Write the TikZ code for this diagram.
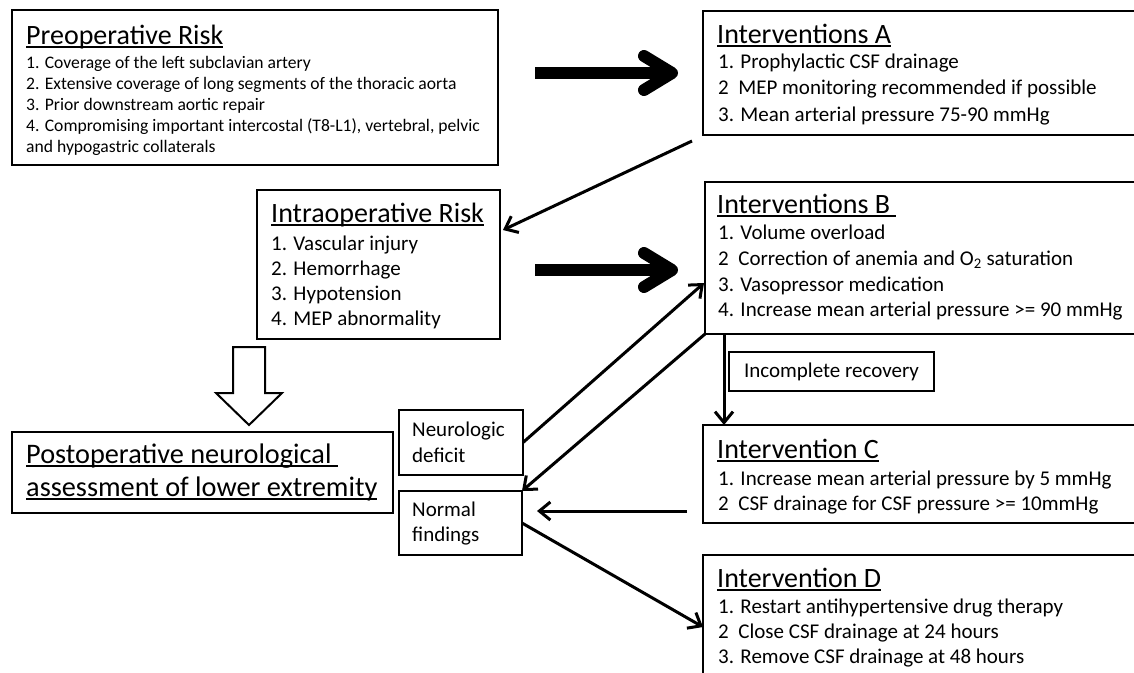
\documentclass[tikz,border=0pt]{standalone}
\usepackage{fontspec}
\setmainfont{Carlito}
\usetikzlibrary{arrows.meta,calc}
\newcommand\ulin[1]{\setbox0\hbox{#1}\rlap{\rule[-3.6pt]{\wd0}{1.6pt}}\box0}
\newcommand\Tsize{\fontsize{28}{33}\selectfont}
\newcommand\Isize{\fontsize{21}{25}\selectfont}
\newcommand\Ssize{\fontsize{17.6}{21}\selectfont}
\begin{document}
\begin{tikzpicture}[x=1pt,y=-1pt,
  box/.style={draw, line width=2pt, inner sep=0pt, outer sep=0pt, anchor=north west},
  sbox/.style={draw, line width=1.5pt, inner sep=0pt, outer sep=0pt, anchor=north west},
  ttl/.style={anchor=base west, inner sep=0pt, font=\Tsize},
  itm/.style={anchor=base west, inner sep=0pt, font=\Isize},
  itms/.style={anchor=base west, inner sep=0pt, font=\Ssize},
  bigarrow/.style={line width=12pt, -{Straight Barb[length=28pt,width=34pt,round]}},
  thinarrow/.style={line width=3pt, -{Straight Barb[length=11pt,width=18pt]}},
]
\path[use as bounding box] (0,0) rectangle (1134,672);
\fill[white] (0,0) rectangle (1134,672);
\clip (0,0) rectangle (1134,672);

% boxes
\node[box, minimum width=486pt, minimum height=155pt] (pre) at (12,10) {};
\node[box, minimum width=440pt, minimum height=124pt] (a) at (703,11) {};
\node[box, minimum width=440pt, minimum height=152pt] (b) at (705,182) {};
\node[box, minimum width=440pt, minimum height=98pt] (c) at (703,425) {};
\node[box, minimum width=440pt, minimum height=130pt] (d) at (703,555) {};
\node[box, minimum width=243pt, minimum height=149pt] (intra) at (257,190) {};
\node[box, minimum width=381pt, minimum height=81pt] (post) at (12,432) {};
\node[sbox, minimum width=124pt, minimum height=65pt] (nd) at (399,410) {};
\node[sbox, minimum width=123pt, minimum height=64pt] (nf) at (399,491) {};
\node[sbox, minimum width=205pt, minimum height=39pt, font=\Isize] (ir) at (729,352) {Incomplete recovery};

% Preoperative risk
\node[ttl] (pre-t) at (26,44) {\ulin{Preoperative Risk}};
\foreach \txt [count=\i] in {{1. Coverage of the left subclavian artery},
  {2. Extensive coverage of long segments of the thoracic aorta},
  {3. Prior downstream aortic repair},
  {4. Compromising important intercostal (T8-L1), vertebral, pelvic},
  {and hypogastric collaterals}}
  \node[itms] (pre-\i) at (26,{47+21*\i}) {\txt};

% Interventions A
\node[ttl] (a-t) at (717,43) {\ulin{Interventions A}};
\foreach \txt [count=\i] in {{1. Prophylactic CSF drainage},
  {2\ \ MEP monitoring recommended if possible},
  {3. Mean arterial pressure 75-90 mmHg}}
  \node[itm] (a-\i) at (718,{41.5+26.5*\i}) {\txt};

% Interventions B
\node[ttl] (b-t) at (717,213) {\ulin{Interventions B\ }};
\foreach \txt [count=\i] in {{1. Volume overload},
  {2\ \ Correction of anemia and O\textsubscript{2} saturation},
  {3. Vasopressor medication},
  {4. Increase mean arterial pressure >= 90 mmHg}}
  \node[itm] (b-\i) at (718,{214+25.7*\i}) {\txt};

% Intervention C
\node[ttl] (c-t) at (717,458) {\ulin{Intervention C}};
\node[itm] (c-1) at (718,485) {1. Increase mean arterial pressure by 5 mmHg};
\node[itm] (c-2) at (718,510) {2\ \ CSF drainage for CSF pressure >= 10mmHg};

% Intervention D
\node[ttl] (d-t) at (717,587) {\ulin{Intervention D}};
\node[itm] (d-1) at (718,613) {1. Restart antihypertensive drug therapy};
\node[itm] (d-2) at (718,638) {2\ \ Close CSF drainage at 24 hours};
\node[itm] (d-3) at (718,663) {3. Remove CSF drainage at 48 hours};

% Intraoperative risk
\node[ttl] (intra-t) at (271,222) {\ulin{Intraoperative Risk}};
\foreach \txt [count=\i] in {{1. Vascular injury},{2. Hemorrhage},{3. Hypotension},{4. MEP abnormality}}
  \node[itm] (intra-\i) at (271,{225+25*\i}) {\txt};

% Postoperative assessment
\node[ttl, font=\fontsize{28.3}{33}\selectfont] (post-1) at (26,463) {\ulin{Postoperative neurological\ }};
\node[ttl, font=\fontsize{28.3}{33}\selectfont] (post-2) at (26,496) {\ulin{assessment of lower extremity}};

% small boxes
\node[itm] (nd-1) at (412,436) {Neurologic};
\node[itm] (nd-2) at (412,462) {deficit};
\node[itm] (nf-1) at (412,516) {Normal};
\node[itm] (nf-2) at (412,541) {findings};

% hollow arrow
\draw[line width=2pt, fill=white, line join=miter]
  (233,347) -- (265,347) -- (265,393) -- (282,393) -- (249,425) -- (216,393) -- (233,393) -- cycle;

% big arrows
\coordinate (y270) at (0,270);
\draw[bigarrow, shorten <=37pt, shorten >=25pt] (pre.east |- a.west) -- (a.west);
\draw[bigarrow, shorten <=35pt, shorten >=27pt] (intra.east |- y270) -- (b.west |- y270);

% thin arrows
\draw[thinarrow] ($(a.south west)+(-11,6)$) -- ($(intra.north east)+(3,40)$);
\draw[thinarrow] (nd.east) -- ($(b.south west)+(-1,-51)$);
\draw[thinarrow] (b.south west) -- (nf.north east);
\draw[thinarrow] ($(b.south west)+(19,0)$) -- ($(c.north west)+(21,0)$);
\draw[thinarrow] ($(c.west)+(-16,37)$) -- ($(nf.east)+(15,-12)$);
\draw[thinarrow] (nf.east) -- ($(d.north west)+(0,72)$);
\end{tikzpicture}
\end{document}
